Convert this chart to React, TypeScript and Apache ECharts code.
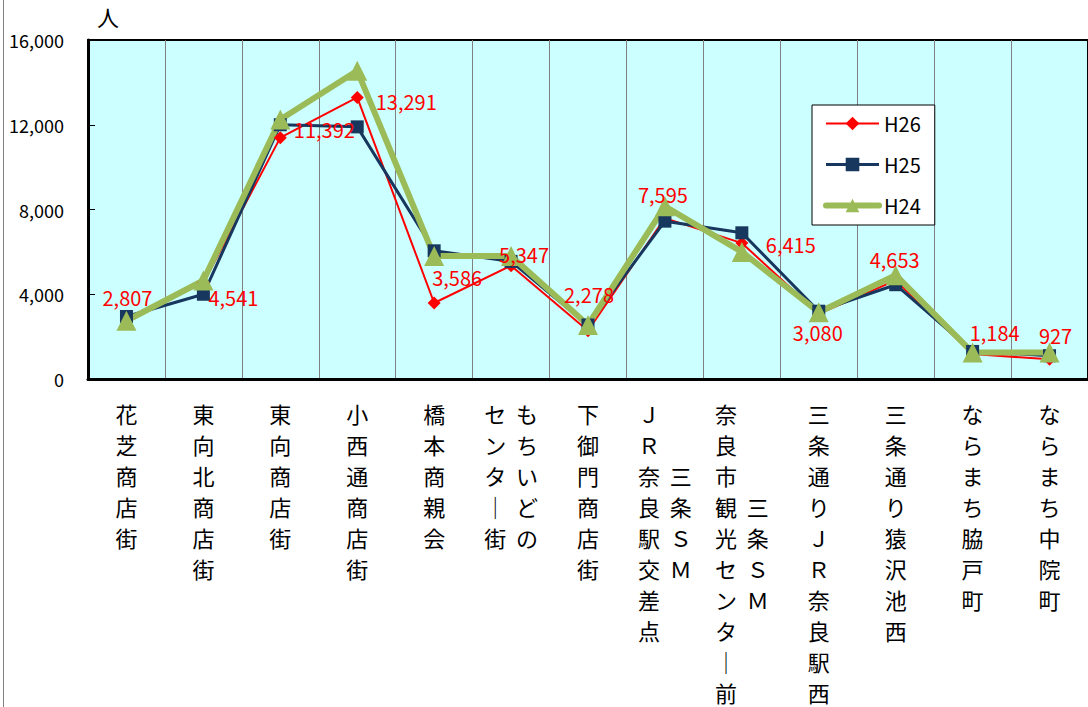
import React, { useEffect, useRef } from "react";
import * as echarts from "echarts";

// ---- data ----
const categories = [
  "花芝商店街",
  "東向北商店街",
  "東向商店街",
  "小西通商店街",
  "橋本商親会",
  "もちいどの\nセンター街",
  "下御門商店街",
  "ＪＲ奈良駅交差点\n三条ＳＭ",
  "奈良市観光センター前\n三条ＳＭ",
  "三条通りＪＲ奈良駅西",
  "三条通り猿沢池西",
  "ならまち脇戸町",
  "ならまち中院町",
];
const seriesNames = ["H26", "H25", "H24"];
const h26 = [2807, 4541, 11392, 13291, 3586, 5347, 2278, 7595, 6415, 3080, 4653, 1184, 927];
const h25 = [2950, 4000, 12000, 11900, 6050, 5550, 2550, 7450, 6900, 3200, 4450, 1300, 1100];
const h24 = [2750, 4650, 12250, 14550, 5800, 5800, 2550, 8150, 6000, 3150, 4900, 1250, 1250];
const yMin = 0;
const yMax = 16000;
const yStep = 4000;
const unitLabel = "人";

// ---- styling ----
const FONT = "'Noto Sans CJK JP', 'Noto Sans', sans-serif";
const colors = ["#FF0000", "#17375E", "#9BBB59"];
const lineWidths = [2, 3, 6];
const symbols = ["diamond", "rect", "triangle"];
const symbolSizes = [13, 13, 20];
// offsets of the H26 value labels from their points (label placement, px)
const labelOffsets: number[][] = [
  [1, -22], [30, 15], [44, -8], [49, 4], [23, -26], [13, -11], [1, -36],
  [-2, -24], [49, 1], [-1, 19], [-1, -21], [22, -21], [6, -24],
];
// two-column vertical labels: which part is drawn as the right column, and how far it is pushed down
const twoColumnLayout: Record<number, { rightIsFirst: boolean; rightDrop: number }> = {
  5: { rightIsFirst: true, rightDrop: 0 },
  7: { rightIsFirst: false, rightDrop: 2 },
  8: { rightIsFirst: false, rightDrop: 3 },
};

const vert = (ch: string) => (ch === "ー" ? "｜" : ch);

function formatCategory(value: string, index: number): string {
  const parts = value.split("\n");
  if (parts.length === 1) {
    return Array.from(parts[0]).map(vert).join("\n");
  }
  const lay = twoColumnLayout[index] || { rightIsFirst: true, rightDrop: 0 };
  const left = Array.from(lay.rightIsFirst ? parts[1] : parts[0]);
  const right = Array.from(lay.rightIsFirst ? parts[0] : parts[1]);
  const rows = Math.max(left.length, right.length + lay.rightDrop);
  const out: string[] = [];
  for (let r = 0; r < rows; r++) {
    const l = left[r] !== undefined ? vert(left[r]) : "　";
    const rc = right[r - lay.rightDrop];
    const rr = rc !== undefined ? vert(rc) : "　";
    out.push(l + "  " + rr);
  }
  return out.join("\n");
}

export default function App() {
  const ref = useRef<HTMLDivElement>(null);
  useEffect(() => {
    if (!ref.current) return;
    const chart = echarts.init(ref.current, undefined, { renderer: "svg" });
    const values = [h26, h25, h24];
    const option: any = {
      animation: false,
      backgroundColor: "#ffffff",
      textStyle: { fontFamily: FONT },
      grid: {
        left: 88,
        top: 40,
        right: -7.5,
        bottom: 327,
        show: true,
        backgroundColor: "#CCFFFF",
        borderColor: "#000000",
        borderWidth: 2,
      },
      legend: {
        data: seriesNames.map((n, i) => ({
          name: n,
          lineStyle: { width: lineWidths[i], color: colors[i], cap: i === 2 ? "round" : "butt" },
        })),
        orient: "vertical",
        left: 812,
        top: 105,
        padding: [8, 14, 9, 11],
        itemWidth: 53,
        itemHeight: 17,
        itemGap: 20,
        backgroundColor: "#ffffff",
        borderColor: "#000000",
        borderWidth: 1,
        textStyle: { fontSize: 20, color: "#000000", fontFamily: FONT, lineHeight: 21 },
      },
      xAxis: {
        type: "category",
        data: categories,
        boundaryGap: true,
        axisLine: { lineStyle: { color: "#000000", width: 3 } },
        axisTick: { show: false },
        splitLine: { show: true, interval: 0, lineStyle: { color: "#808080", width: 1 } },
        axisLabel: {
          interval: 0,
          fontSize: 22,
          lineHeight: 31,
          color: "#000000",
          fontFamily: FONT,
          margin: 18,
          verticalAlign: "top",
          formatter: formatCategory,
        },
      },
      yAxis: {
        type: "value",
        min: yMin,
        max: yMax,
        interval: yStep,
        axisLine: { show: true, lineStyle: { color: "#000000", width: 3 } },
        axisTick: { show: true, inside: true, length: 7, lineStyle: { color: "#000000", width: 1 } },
        splitLine: { show: false },
        axisLabel: {
          fontSize: 18,
          color: "#000000",
          fontFamily: FONT,
          margin: 24,
          padding: [0, 0, 10, 0],
          formatter: (v: number) => v.toLocaleString("en-US"),
        },
      },
      graphic: [
        {
          type: "line",
          shape: { x1: 3.5, y1: 0, x2: 3.5, y2: 707 },
          style: { stroke: "#808080", lineWidth: 1 },
        },
        {
          type: "text",
          left: 97,
          top: 5,
          style: { text: unitLabel, fontSize: 22, fill: "#000000", fontFamily: FONT },
        },
      ],
      series: [
        ...seriesNames.map((n, i) => ({
          name: n,
          type: "line",
          data: values[i],
          symbol: symbols[i],
          symbolSize: symbolSizes[i],
          lineStyle: { color: colors[i], width: lineWidths[i], join: "round" },
          itemStyle: { color: colors[i] },
        })),
        {
          name: "H26値",
          type: "line",
          data: h26.map((v, i) => ({ value: v, label: { offset: labelOffsets[i] } })),
          symbol: "circle",
          symbolSize: 2,
          silent: true,
          lineStyle: { width: 0, opacity: 0 },
          itemStyle: { color: "rgba(0,0,0,0)" },
          label: {
            show: true,
            position: "inside",
            color: "#FF0000",
            fontSize: 20,
            fontFamily: FONT,
            formatter: (p: any) => Number(p.value).toLocaleString("en-US"),
          },
        },
      ],
    };
    chart.setOption(option);
    return () => chart.dispose();
  }, []);
  return (
    <div
      ref={ref}
      style={{ position: "fixed", left: 0, top: 0, width: 1088, height: 707 }}
    />
  );
}
